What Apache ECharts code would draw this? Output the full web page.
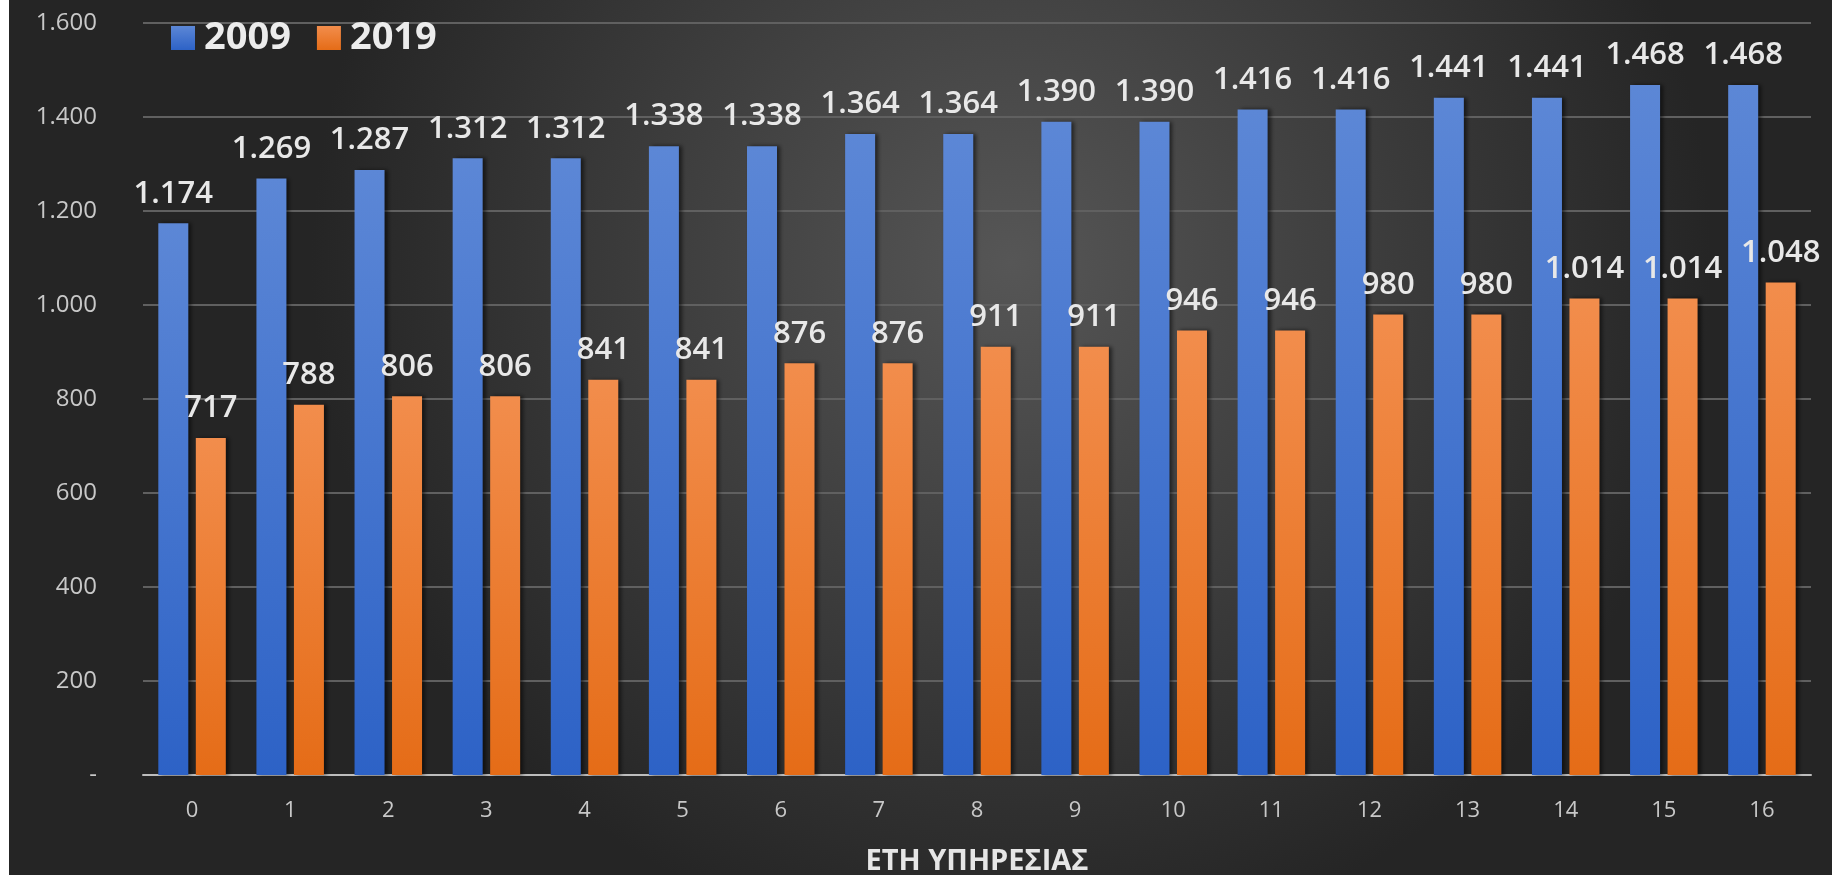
<!DOCTYPE html>
<html>
<head>
<meta charset="utf-8">
<script src="https://cdn.jsdelivr.net/npm/echarts@6/dist/echarts.min.js"></script>
<style>
  html, body { margin: 0; padding: 0; background: #ffffff; }
  #chart { position: absolute; left: 9px; top: 0; width: 1823px; height: 875px; }
</style>
</head>
<body>
<div id="chart"></div>
<script>
var years = ['0','1','2','3','4','5','6','7','8','9','10','11','12','13','14','15','16'];
var values2009 = [1174,1269,1287,1312,1312,1338,1338,1364,1364,1390,1390,1416,1416,1441,1441,1468,1468];
var values2019 = [717,788,806,806,841,841,876,876,911,911,946,946,980,980,1014,1014,1048];

// greek style thousands separator
function fmt(v) {
  if (v === 0) return '-';
  var s = String(v);
  return s.length > 3 ? s.slice(0, s.length - 3) + '.' + s.slice(-3) : s;
}

var myChart = echarts.init(document.getElementById('chart'));
var font = 'Open Sans';

var option = {
  backgroundColor: {
    type: 'radial', x: 0.55, y: 0.3, r: 0.8,
    colorStops: [
      { offset: 0, color: '#565656' },
      { offset: 1, color: '#252525' }
    ]
  },
  textStyle: { fontFamily: font },
  legend: {
    left: 157,
    top: 14,
    icon: 'rect',
    itemWidth: 24,
    itemHeight: 24,
    itemGap: 26,
    textStyle: {
      color: '#ececec',
      fontSize: 38,
      fontWeight: 'bold',
      padding: [0, 0, 0, 4]
    },
    data: ['2009', '2019']
  },
  grid: { left: 134, right: 21, top: 23, bottom: 100, outerBoundsMode: 'none' },
  xAxis: {
    type: 'category',
    data: years,
    name: 'ΕΤΗ ΥΠΗΡΕΣΙΑΣ',
    nameLocation: 'middle',
    nameGap: 72,
    nameTextStyle: { color: '#e6e6e6', fontSize: 29, fontWeight: 'bold' },
    axisLine: { lineStyle: { color: '#bdbdbd', width: 2 } },
    axisTick: { show: false },
    axisLabel: { color: '#c8c8c8', fontSize: 22, margin: 25 }
  },
  yAxis: {
    type: 'value',
    min: 0,
    max: 1600,
    interval: 200,
    axisLine: { show: false },
    axisTick: { show: false },
    axisLabel: { color: '#c8c8c8', fontSize: 24, margin: 46, formatter: fmt },
    splitLine: { lineStyle: { color: '#606060', width: 2 } }
  },
  series: [
    {
      name: '2009',
      type: 'bar',
      data: values2009,
      barWidth: 30,
      barGap: '25%',
      itemStyle: {
        color: {
          type: 'linear', x: 0, y: 0, x2: 0, y2: 1,
          colorStops: [
            { offset: 0, color: '#5c87d6' },
            { offset: 1, color: '#2d62c6' }
          ]
        },
        shadowColor: 'rgba(0,0,0,0.55)',
        shadowBlur: 4,
        shadowOffsetX: 3
      },
      label: {
        show: true,
        position: 'top',
        distance: 14,
        color: '#e8e8e8',
        fontSize: 31,
        fontWeight: 600,
        formatter: function (p) { return fmt(p.value); }
      }
    },
    {
      name: '2019',
      type: 'bar',
      data: values2019,
      barWidth: 30,
      itemStyle: {
        color: {
          type: 'linear', x: 0, y: 0, x2: 0, y2: 1,
          colorStops: [
            { offset: 0, color: '#f28d4c' },
            { offset: 1, color: '#e56c17' }
          ]
        },
        shadowColor: 'rgba(0,0,0,0.55)',
        shadowBlur: 4,
        shadowOffsetX: 3
      },
      label: {
        show: true,
        position: 'top',
        distance: 14,
        color: '#e8e8e8',
        fontSize: 31,
        fontWeight: 600,
        formatter: function (p) { return fmt(p.value); }
      }
    }
  ]
};
myChart.setOption(option);
</script>
</body>
</html>
